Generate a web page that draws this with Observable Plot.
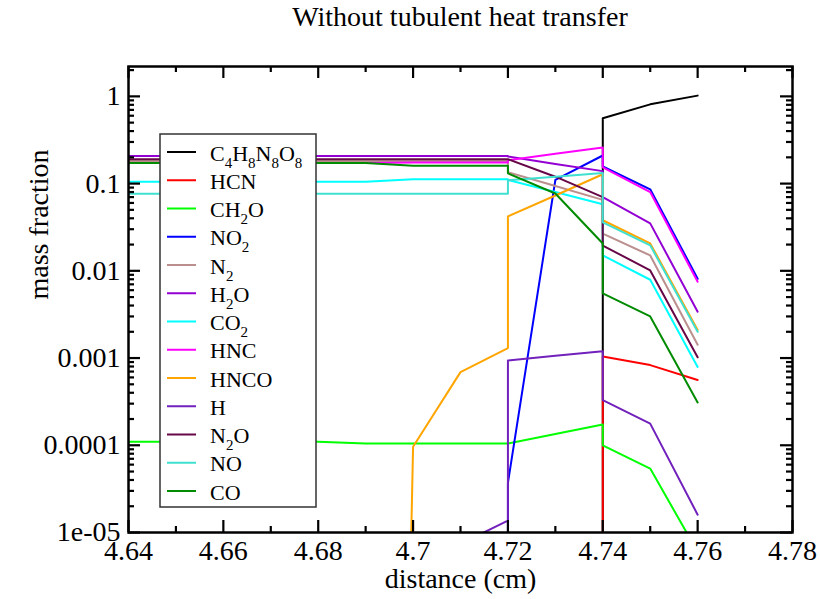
<!DOCTYPE html>
<html>
<head>
<meta charset="utf-8">
<script src="https://cdn.jsdelivr.net/npm/d3@7"></script>
<script src="https://cdn.jsdelivr.net/npm/@observablehq/plot@0.6"></script>
<style>
  html, body { margin: 0; padding: 0; background: #fff; }
  #wrap { position: relative; width: 820px; height: 599px; font-family: "Liberation Serif", "Times New Roman", serif; }
  #title { position: absolute; left: 0; top: 1px; width: 920px; text-align: center; font-size: 28px; color: #000; line-height: 32px; }
  #chart svg text { font-family: "Liberation Serif", "Times New Roman", serif; }
</style>
</head>
<body>
<div id="wrap">
  <div id="chart"></div>
  <div id="title">Without tubulent heat transfer</div>
</div>
<script>
// ---- data ----
const distance = [4.64, 4.65, 4.66, 4.67, 4.68, 4.69, 4.70, 4.71, 4.72, 4.72, 4.73, 4.74, 4.74, 4.75, 4.76];
const Z = 1e-30; // effectively zero (below the axis)

const C4H8N8O8 = [Z, Z, Z, Z, Z, Z, Z, Z, Z, Z, Z, Z, 0.56, 0.81, 1.02];
const HCN      = [Z, Z, Z, Z, Z, Z, Z, Z, Z, Z, Z, Z, 0.00104, 0.00083, 0.00056];
const CH2O     = [1.1e-4, 1.1e-4, 1.1e-4, 1.1e-4, 1.1e-4, 1.05e-4, 1.05e-4, 1.05e-4, 1.05e-4, 1.05e-4, 1.35e-4, 1.73e-4, 1.0e-4, 5.4e-5, 6e-6];
const NO2      = [Z, Z, Z, Z, Z, Z, Z, Z, Z, 3.7e-5, 0.11, 0.21, 0.157, 0.086, 0.0081];
const N2       = [0.182, 0.182, 0.182, 0.182, 0.182, 0.182, 0.182, 0.182, 0.182, 0.135, 0.094, 0.065, 0.0267, 0.015, 0.00142];
const H2O      = [0.207, 0.207, 0.207, 0.207, 0.207, 0.207, 0.207, 0.207, 0.207, 0.205, 0.168, 0.139, 0.07, 0.035, 0.0034];
const CO2      = [0.105, 0.105, 0.105, 0.105, 0.105, 0.105, 0.112, 0.112, 0.112, 0.11, 0.08, 0.058, 0.015, 0.0079, 0.00079];
const HNC      = [0.172, 0.172, 0.172, 0.172, 0.172, 0.172, 0.174, 0.174, 0.174, 0.185, 0.22, 0.26, 0.153, 0.08, 0.0075];
const HNCO     = [Z, Z, Z, Z, Z, Z, 9.6e-5, 6.9e-4, 0.0013, 0.042, 0.073, 0.128, 0.038, 0.0206, 0.0021];
const H        = [Z, Z, Z, Z, Z, Z, Z, 7.4e-6, 1.37e-5, 9.4e-4, 1.06e-3, 1.2e-3, 3.3e-4, 1.77e-4, 1.6e-5];
const N2O      = [0.19, 0.19, 0.19, 0.19, 0.19, 0.19, 0.19, 0.19, 0.19, 0.19, 0.12, 0.07, 0.0195, 0.0101, 0.00102];
const NO       = [0.0766, 0.0766, 0.0766, 0.0766, 0.0766, 0.0766, 0.0766, 0.0766, 0.0766, 0.109, 0.12, 0.132, 0.036, 0.0196, 0.002];
const CO       = [0.172, 0.172, 0.172, 0.172, 0.172, 0.172, 0.16, 0.16, 0.16, 0.131, 0.077, 0.0206, 0.0055, 0.0030, 0.00031];

const seriesNames  = ["C4H8N8O8", "HCN", "CH2O", "NO2", "N2", "H2O", "CO2", "HNC", "HNCO", "H", "N2O", "NO", "CO"];
const seriesValues = [C4H8N8O8, HCN, CH2O, NO2, N2, H2O, CO2, HNC, HNCO, H, N2O, NO, CO];
const seriesColors = ["#000000", "#ff0000", "#00ff00", "#0000ff", "#bc8f8f", "#9400d3", "#00ffff", "#ff00ff", "#ffa500", "#7221bc", "#670748", "#40e0d0", "#008b00"];

const xMajor = [4.64, 4.66, 4.68, 4.70, 4.72, 4.74, 4.76, 4.78];
const xTickLabels = ["4.64", "4.66", "4.68", "4.7", "4.72", "4.74", "4.76", "4.78"];
const xMinor = [4.65, 4.67, 4.69, 4.71, 4.73, 4.75, 4.77];
const yMajor = [1e-5, 1e-4, 1e-3, 1e-2, 1e-1, 1];
const yTickLabels = ["1e-05", "0.0001", "0.001", "0.01", "0.1", "1"];
const yMinor = [];
for (const d of [1e-5, 1e-4, 1e-3, 1e-2, 1e-1, 1]) for (const m of [2,3,4,5,6,7,8,9]) if (d*m <= 2.2) yMinor.push(+(d*m).toPrecision(3));

// ---- table ----
const rows = [];
seriesNames.forEach((name, s) => {
  seriesValues[s].forEach((v, j) => rows.push({species: name, distance: distance[j], value: v}));
});

// ---- layout ----
const W = 820, Hh = 599, mL = 128, mR = 28, mT = 66, mB = 67;
const plotW = W - mL - mR, plotH = Hh - mT - mB;
const FONT = 28;
const SERIF = '"Liberation Serif", "Times New Roman", serif';

const chart = Plot.plot({
  width: W, height: Hh,
  marginLeft: mL, marginRight: mR, marginTop: mT, marginBottom: mB,
  style: {fontFamily: SERIF, color: "#000", background: "#fff"},
  x: {domain: [4.64, 4.78]},
  y: {type: "log", domain: [1e-5, 2.2]},
  color: {domain: seriesNames, range: seriesColors},
  marks: [
    Plot.line(rows, {x: "distance", y: "value", z: "species", stroke: "species", strokeWidth: 2, clip: true}),
    // inward ticks, bottom & top
    Plot.ruleX(xMajor, {stroke: "#000", strokeWidth: 2.2, insetTop: plotH - 12}),
    Plot.ruleX(xMinor, {stroke: "#000", strokeWidth: 2.2, insetTop: plotH - 6}),
    Plot.ruleX(xMajor, {stroke: "#000", strokeWidth: 2.2, insetBottom: plotH - 12}),
    Plot.ruleX(xMinor, {stroke: "#000", strokeWidth: 2.2, insetBottom: plotH - 6}),
    // inward ticks, left & right
    Plot.ruleY(yMajor, {stroke: "#000", strokeWidth: 2.2, insetRight: plotW - 12}),
    Plot.ruleY(yMinor, {stroke: "#000", strokeWidth: 2.2, insetRight: plotW - 6}),
    Plot.ruleY(yMajor, {stroke: "#000", strokeWidth: 2.2, insetLeft: plotW - 12}),
    Plot.ruleY(yMinor, {stroke: "#000", strokeWidth: 2.2, insetLeft: plotW - 6}),
    Plot.frame({stroke: "#000", strokeWidth: 2.5}),
    Plot.axisX(xMajor, {tickSize: 0, tickPadding: 8, fontSize: FONT, fontFamily: SERIF, fontVariant: "normal", label: null,
      tickFormat: d => xTickLabels[xMajor.indexOf(d)]}),
    Plot.axisY(yMajor, {tickSize: 0, tickPadding: 8, fontSize: FONT, fontFamily: SERIF, fontVariant: "normal", label: null,
      tickFormat: d => yTickLabels[yMajor.indexOf(d)]}),
    Plot.text(["distance (cm)"], {text: d => d, frameAnchor: "bottom", dy: 47, fontSize: FONT, fontFamily: SERIF, lineAnchor: "middle"}),
    Plot.text(["mass fraction"], {text: d => d, frameAnchor: "left", dx: -89, rotate: -90, fontSize: FONT, fontFamily: SERIF, lineAnchor: "middle"})
  ]
});
chart.setAttribute("font-family", SERIF);
document.getElementById("chart").appendChild(chart);

// ---- legend (inside the plot frame) ----
const svg = d3.select(chart);
const lg = svg.append("g").attr("font-family", SERIF).attr("font-size", 22).attr("text-anchor", "start");
lg.append("rect").attr("x", 160).attr("y", 134).attr("width", 156).attr("height", 373)
  .attr("fill", "#fff").attr("stroke", "#333").attr("stroke-width", 1.5);
seriesNames.forEach((name, i) => {
  const y = 152 + i * 28.25;
  lg.append("line").attr("x1", 167).attr("x2", 196).attr("y1", y).attr("y2", y)
    .attr("stroke", seriesColors[i]).attr("stroke-width", 2);
  const t = lg.append("text").attr("x", 210).attr("y", y + 8.5).attr("fill", "#000").attr("text-anchor", "start");
  const parts = name.match(/[A-Za-z]+|\d+/g);
  let sub = false;
  parts.forEach(p => {
    const isNum = /\d/.test(p);
    const ts = t.append("tspan").text(p);
    if (isNum && !sub) { ts.attr("dy", 7).attr("font-size", 15); sub = true; }
    else if (isNum) { ts.attr("font-size", 15); }
    else if (sub) { ts.attr("dy", -7); sub = false; }
  });
});
</script>
</body>
</html>
